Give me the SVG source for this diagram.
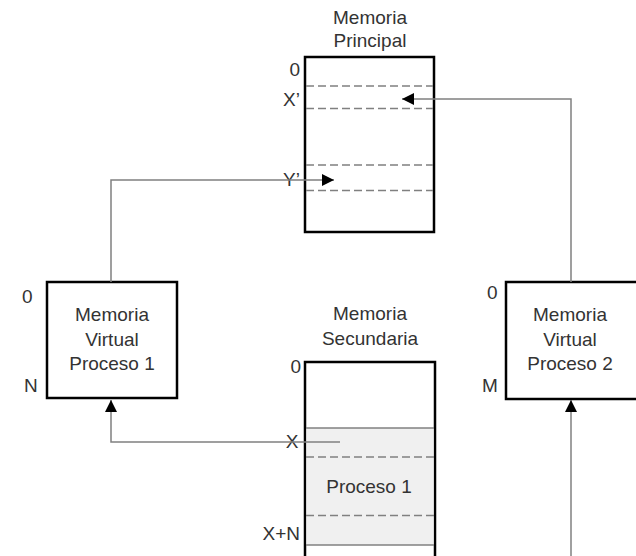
<svg xmlns="http://www.w3.org/2000/svg" width="636" height="556" viewBox="0 0 636 556">
<style>
.t{font-family:"Liberation Sans",Arial,sans-serif;font-size:19px;fill:#333}
.c{text-anchor:middle}
.r{text-anchor:end}
.box{fill:#fff;stroke:#000;stroke-width:2.5}
.dash{stroke:#808080;stroke-width:1.5;stroke-dasharray:8 4;fill:none}
.conn{stroke:#808080;stroke-width:1.5;fill:none}
.thin{stroke:#808080;stroke-width:1.5}
</style>
<defs>
<marker id="ah" viewBox="0 0 12 12" refX="12" refY="6" markerWidth="12" markerHeight="12" markerUnits="userSpaceOnUse" orient="auto">
<path d="M0,0 L12,6 L0,12 Z" fill="#000"/>
</marker>
</defs>
<rect width="636" height="556" fill="#fff"/>

<g id="memoria-principal">
<text class="t c" x="370" y="24">Memoria</text>
<text class="t c" x="370" y="47">Principal</text>
<rect class="box" x="305" y="57" width="129" height="175"/>
<line class="dash" x1="306" y1="86" x2="433" y2="86"/>
<line class="dash" x1="306" y1="108.5" x2="433" y2="108.5"/>
<line class="dash" x1="306" y1="165" x2="433" y2="165"/>
<line class="dash" x1="306" y1="190.5" x2="433" y2="190.5"/>
<text class="t r" x="300" y="76">0</text>
<text class="t r" x="300" y="106">X’</text>
<text class="t r" x="300" y="186">Y’</text>
</g>

<g id="memoria-virtual-1">
<rect class="box" x="47" y="282" width="130" height="116"/>
<text class="t c" x="112" y="321">Memoria</text>
<text class="t c" x="112" y="346">Virtual</text>
<text class="t c" x="112" y="370">Proceso 1</text>
<text class="t" x="22" y="303">0</text>
<text class="t" x="24" y="392">N</text>
</g>

<g id="memoria-virtual-2">
<rect class="box" x="506" y="282" width="132" height="117"/>
<text class="t c" x="570" y="321">Memoria</text>
<text class="t c" x="570" y="346">Virtual</text>
<text class="t c" x="570" y="370">Proceso 2</text>
<text class="t" x="487" y="299">0</text>
<text class="t" x="482" y="392">M</text>
</g>

<g id="memoria-secundaria">
<text class="t c" x="370" y="320">Memoria</text>
<text class="t c" x="370" y="345">Secundaria</text>
<rect class="box" x="305" y="362" width="130" height="210"/>
<rect x="306.5" y="428" width="127" height="117" fill="#f0f0f0"/>
<line class="thin" x1="306" y1="428" x2="434" y2="428"/>
<line class="thin" x1="306" y1="545" x2="434" y2="545"/>
<line class="dash" x1="306" y1="457" x2="434" y2="457"/>
<line class="dash" x1="306" y1="515.5" x2="434" y2="515.5"/>
<text class="t c" x="369" y="493">Proceso 1</text>
<text class="t r" x="301" y="373">0</text>
<text class="t c" x="292" y="448">X</text>
<text class="t r" x="300" y="540">X+N</text>
</g>

<g id="connectors">
<path class="conn" d="M111,282 V180 H334" marker-end="url(#ah)"/>
<path class="conn" d="M571,282 V99 H402" marker-end="url(#ah)"/>
<path class="conn" d="M340,442 H111 V400" marker-end="url(#ah)"/>
<path class="conn" d="M571,556 V400" marker-end="url(#ah)"/>
</g>
</svg>
